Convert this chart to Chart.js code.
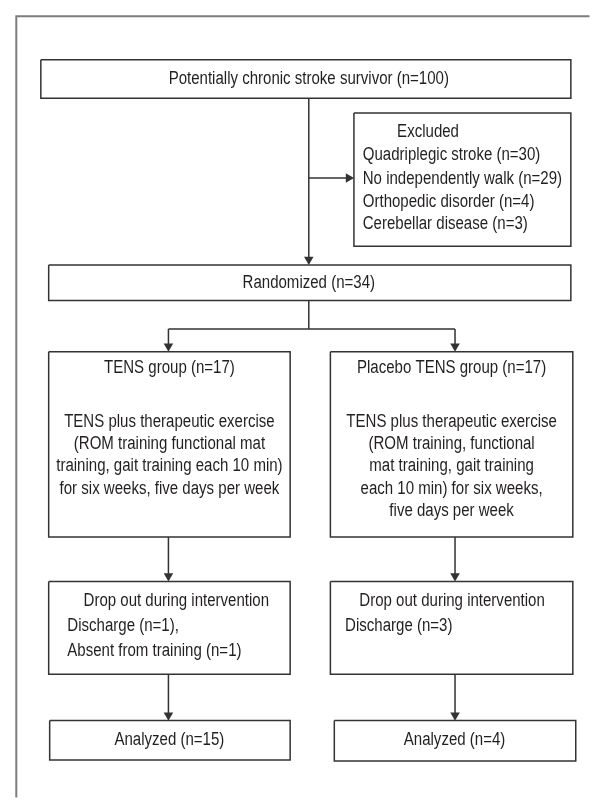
<!DOCTYPE html>
<html>
<head>
<meta charset="utf-8">
<script src="https://cdn.jsdelivr.net/npm/chart.js@4/dist/chart.umd.min.js"></script>
<style>
html,body{margin:0;padding:0;background:#fff;}
canvas{display:block;}
</style>
</head>
<body>
<canvas id="c" width="595" height="803"></canvas>
<script>
// ---------- DATA (flow counts and texts) ----------
const enrolledLabel = 'Potentially chronic stroke survivor';
const enrolledN = 100;
const excludedTitle = 'Excluded';
const excludedReasons = ['Quadriplegic stroke', 'No independently walk', 'Orthopedic disorder', 'Cerebellar disease'];
const excludedN = [30, 29, 4, 3];
const randomizedLabel = 'Randomized';
const randomizedN = 34;
const groupNames = ['TENS group', 'Placebo TENS group'];
const groupN = [17, 17];
const groupProtocol = [
  ['TENS plus therapeutic exercise', '(ROM training functional mat', 'training, gait training each 10 min)', 'for six weeks, five days per week'],
  ['TENS plus therapeutic exercise', '(ROM training, functional', 'mat training, gait training', 'each 10 min) for six weeks,', 'five days per week']
];
const dropoutTitle = 'Drop out during intervention';
const dropoutReasons = [['Discharge', 'Absent from training'], ['Discharge']];
const dropoutN = [[1, 1], [3]];
const dropoutSuffix = [[',', ''], ['']];
const analyzedLabel = 'Analyzed';
const analyzedN = [15, 4];

// ---------- LAYOUT (data-space units of the hidden axes) ----------
const W = 595, H = 803;
const frame = [[11, 803], [11, 11], [595, 11]];
const boxEnrolled = [36, 55, 576, 94];
const boxExcluded = [355, 109, 576, 244];
const boxRandom = [44, 263, 576, 299];
const boxGroup = [[44, 351, 290, 539], [331, 351, 578, 539]];
const boxDrop = [[44, 584, 290, 678], [331, 584, 578, 678]];
const boxAnalyzed = [[45, 725, 290, 765], [335, 725, 581, 766]];
const mainX = 309;
const colX = [166, 458];
const branchY = 175;
const splitY = 328;
const arrowR = 5.5;

const LINE = '#333333';
const FRAME = '#7d7d7d';
const TEXT = '#231f20';
const FONT = '18px "Liberation Sans", Arial, sans-serif';
const FONT_SX = 0.835; // condensed look

// ---------- build datasets ----------
const datasets = [];
function seg(points, color, width) {
  datasets.push({
    type: 'scatter', showLine: true,
    data: points.map(p => ({x: p[0], y: p[1]})),
    borderColor: color, borderWidth: width, pointRadius: 0, fill: false,
    tension: 0, borderJoinStyle: 'miter', borderCapStyle: 'butt', clip: false
  });
}
function rect(b) {
  seg([[b[0], b[1]], [b[2], b[1]], [b[2], b[3]], [b[0], b[3]], [b[0], b[1]]], LINE, 1.5);
}
seg(frame, FRAME, 2);
[boxEnrolled, boxExcluded, boxRandom, ...boxGroup, ...boxDrop, ...boxAnalyzed].forEach(rect);

const downTips = [];
const rightTips = [];
function arrowDown(x, y0, y1) { seg([[x, y0], [x, y1 - arrowR]], LINE, 1.5); downTips.push({x: x, y: y1 - arrowR}); }
function arrowRight(y, x0, x1) { seg([[x0, y], [x1 - arrowR, y]], LINE, 1.5); rightTips.push({x: x1 - arrowR, y: y}); }

arrowDown(mainX, boxEnrolled[3], boxRandom[1]);
arrowRight(branchY, mainX, boxExcluded[0]);
seg([[mainX, boxRandom[3]], [mainX, splitY]], LINE, 1.5);
seg([[colX[0], splitY], [colX[1], splitY]], LINE, 1.5);
for (let i = 0; i < 2; i++) {
  arrowDown(colX[i], splitY, boxGroup[i][1]);
  arrowDown(colX[i], boxGroup[i][3], boxDrop[i][1]);
  arrowDown(colX[i], boxDrop[i][3], boxAnalyzed[i][1]);
}
datasets.push({type: 'scatter', data: downTips, pointStyle: 'triangle', pointRotation: 180,
  pointRadius: arrowR, pointBackgroundColor: LINE, pointBorderWidth: 0, showLine: false, clip: false});
datasets.push({type: 'scatter', data: rightTips, pointStyle: 'triangle', pointRotation: 90,
  pointRadius: arrowR, pointBackgroundColor: LINE, pointBorderWidth: 0, showLine: false, clip: false});

// ---------- texts ----------
const texts = [];
function T(s, x, y, align) { texts.push({s: s, x: x, y: y, align: align || 'center'}); }
T(enrolledLabel + ' (n=' + enrolledN + ')', mainX, 75);
T(excludedTitle, 399, 128, 'left');
const exY = [152, 176, 199, 222];
excludedReasons.forEach((r, i) => T(r + ' (n=' + excludedN[i] + ')', 364, exY[i], 'left'));
T(randomizedLabel + ' (n=' + randomizedN + ')', mainX, 281);
const groupCx = [167, 454.5];
for (let g = 0; g < 2; g++) {
  T(groupNames[g] + ' (n=' + groupN[g] + ')', groupCx[g], 368);
  groupProtocol[g].forEach((l, i) => T(l, groupCx[g], 422 + i * 22.6));
}
const dropTitleX = [174, 455];
const dropLeftX = [63, 346];
for (let g = 0; g < 2; g++) {
  T(dropoutTitle, dropTitleX[g], 604);
  dropoutReasons[g].forEach((r, i) => T(r + ' (n=' + dropoutN[g][i] + ')' + dropoutSuffix[g][i], dropLeftX[g], 629 + i * 25, 'left'));
}
const anaCx = [167, 457.5];
for (let g = 0; g < 2; g++) T(analyzedLabel + ' (n=' + analyzedN[g] + ')', anaCx[g], 745);

const textPlugin = {
  id: 'flowText',
  afterDatasetsDraw(chart) {
    const {ctx, scales} = chart;
    ctx.save();
    ctx.fillStyle = TEXT;
    ctx.font = FONT;
    ctx.textBaseline = 'middle';
    texts.forEach(t => {
      ctx.save();
      ctx.translate(scales.x.getPixelForValue(t.x), scales.y.getPixelForValue(t.y));
      ctx.scale(FONT_SX, 1);
      ctx.textAlign = t.align;
      ctx.fillText(t.s, 0, 0);
      ctx.restore();
    });
    ctx.restore();
  }
};

new Chart(document.getElementById('c'), {
  type: 'scatter',
  data: {datasets: datasets},
  options: {
    responsive: false, animation: false, events: [],
    layout: {padding: 0},
    plugins: {legend: {display: false}, tooltip: {enabled: false}},
    scales: {
      x: {type: 'linear', min: 0, max: W, display: false},
      y: {type: 'linear', min: 0, max: H, reverse: true, display: false}
    }
  },
  plugins: [textPlugin]
});
</script>
</body>
</html>
